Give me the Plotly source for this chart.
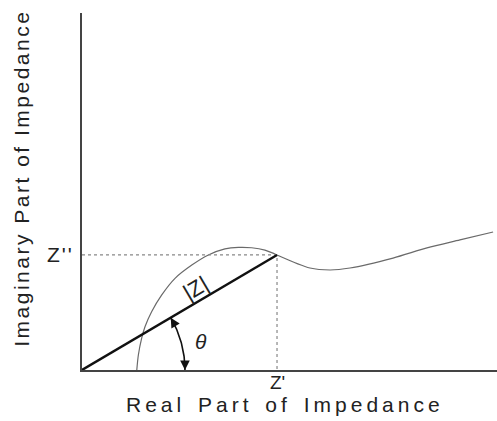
import numpy as np
import plotly.graph_objects as go

# Measured impedance spectrum (Nyquist form): real part vs imaginary part
z_real = [28.1, 28.9, 30.6, 32.3, 35.7, 40.9, 47.7, 56.3, 64.8, 73.3,
          80.2, 87.0, 93.8, 100.0,
          116.9, 127.2, 137.4, 159.5, 176.9, 193.8, 210.8]
z_imag = [0.0, 7.7, 16.3, 22.2, 29.9, 38.5, 47.0, 53.8, 59.0, 62.1,
          62.9, 62.7, 61.5, 59.0,
          52.3, 51.3, 52.3, 57.4, 62.6, 66.7, 70.8]

# The highlighted point Z = Z' + jZ''
z_point_real = 100.0
z_point_imag = 59.0

x_max = 212.8
y_max = 183.1

FONT = "Liberation Sans"
TXT = "#222222"

fig = go.Figure()

# Spectrum: the arc up to the highlighted point, then the low-frequency tail
k = z_real.index(z_point_real)
for xs, ys in ((z_real[:k + 1], z_imag[:k + 1]), (z_real[k:], z_imag[k:])):
    fig.add_trace(go.Scatter(
        x=xs, y=ys, mode="lines",
        line=dict(color="#6a6a6a", width=1.2, shape="spline", smoothing=0.8),
        hoverinfo="skip", showlegend=False,
    ))

# Projections of the point onto both axes
fig.add_trace(go.Scatter(
    x=[0, z_point_real, z_point_real], y=[z_point_imag, z_point_imag, 0],
    mode="lines", line=dict(color="#888888", width=1.2, dash="dot"),
    hoverinfo="skip", showlegend=False,
))

# Modulus vector |Z|
fig.add_trace(go.Scatter(
    x=[0, z_point_real], y=[0, z_point_imag], mode="lines",
    line=dict(color="#111111", width=2.4),
    hoverinfo="skip", showlegend=False,
))

# Phase angle arc
theta = np.arctan2(z_point_imag, z_point_real)
r_arc = 52.8
t = np.linspace(0, theta, 40)
fig.add_trace(go.Scatter(
    x=r_arc * np.cos(t), y=r_arc * np.sin(t), mode="lines",
    line=dict(color="#111111", width=1.6),
    hoverinfo="skip", showlegend=False,
))

annotations = []
# arrowheads at both ends of the angle arc
d = 4.0
annotations.append(dict(x=r_arc, y=0, ax=r_arc, ay=d, xref="x", yref="y",
                        axref="x", ayref="y", text="", showarrow=True,
                        arrowhead=2, arrowsize=1.2, arrowwidth=1.6,
                        arrowcolor="#111111"))
ex, ey = r_arc * np.cos(theta), r_arc * np.sin(theta)
tx, ty = -np.sin(theta), np.cos(theta)
annotations.append(dict(x=ex, y=ey, ax=ex - d * tx, ay=ey - d * ty,
                        xref="x", yref="y", axref="x", ayref="y", text="",
                        showarrow=True, arrowhead=2, arrowsize=1.2,
                        arrowwidth=1.6, arrowcolor="#111111"))

annotations += [
    dict(x=61.0, y=14.5, text="<i>θ</i>", showarrow=False,
         font=dict(family=FONT, size=21, color=TXT)),
    dict(x=58.0, y=42.0, text="|Z|", showarrow=False,
         textangle=-np.degrees(theta),
         font=dict(family=FONT, size=22, color=TXT)),
    dict(x=0, y=z_point_imag, showarrow=False, xanchor="right", xshift=-6,
         text='<span style="letter-spacing:2px">Z\'\'</span>',
         font=dict(family=FONT, size=21, color=TXT)),
    dict(x=z_point_real, y=0, text="Z'", showarrow=False, yanchor="top",
         yshift=0, font=dict(family=FONT, size=19, color=TXT)),
    dict(x=0.49, y=-0.098, xref="paper", yref="paper", yanchor="middle",
         text='<span style="letter-spacing:4px;word-spacing:3px">'
              'Real Part of Impedance</span>',
         showarrow=False, font=dict(family=FONT, size=21, color=TXT)),
    dict(x=-0.145, y=0.538, xref="paper", yref="paper", xanchor="center",
         yanchor="middle", textangle=-90,
         text='<span style="letter-spacing:2.5px">'
              'Imaginary Part of Impedance</span>',
         showarrow=False, font=dict(family=FONT, size=21, color=TXT)),
]

fig.update_layout(
    width=497, height=421,
    margin=dict(l=82, r=0, t=13, b=51),
    paper_bgcolor="white", plot_bgcolor="white",
    annotations=annotations,
    xaxis=dict(range=[0, x_max], showgrid=False, zeroline=False,
               showticklabels=False, ticks="", showline=True,
               linecolor="#444", linewidth=2),
    yaxis=dict(range=[0, y_max], showgrid=False, zeroline=False,
               showticklabels=False, ticks="", showline=True,
               linecolor="#444", linewidth=2),
)

fig.write_html("out.html")
